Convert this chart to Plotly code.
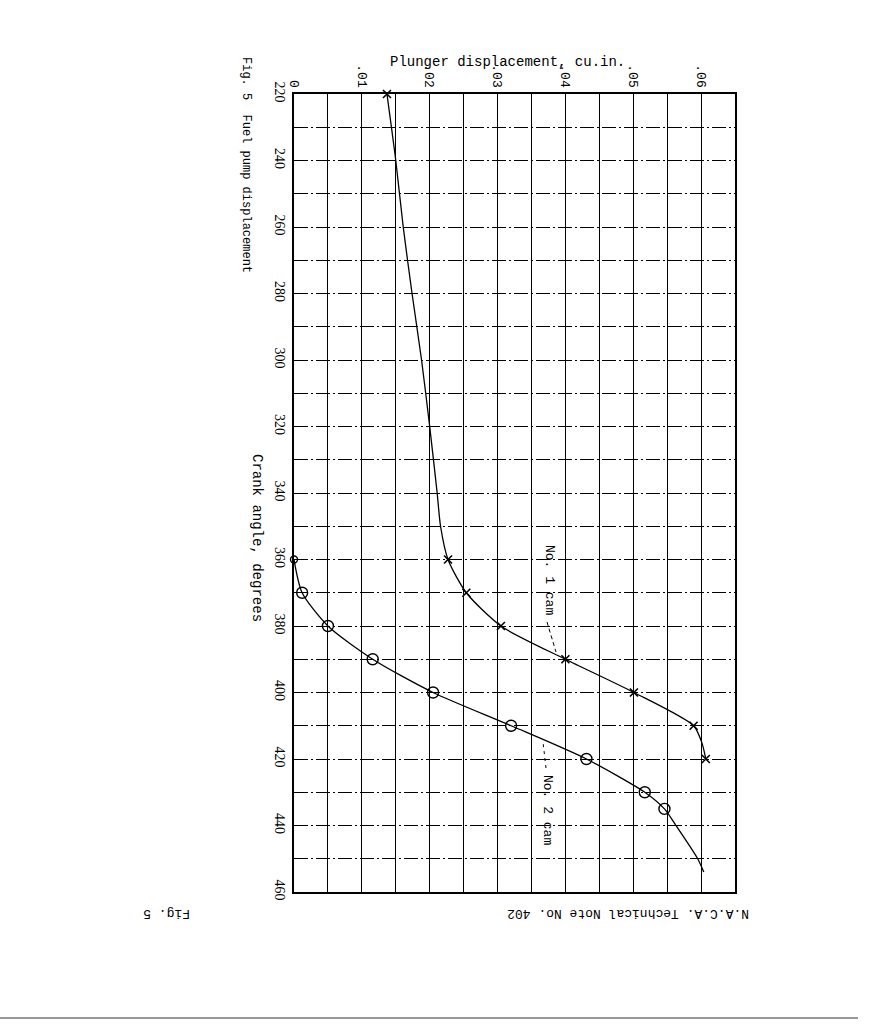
import plotly.graph_objects as go

W, H = 870, 1024
L, R, T, B = 294, 135, 94, 132

# ---- data ----
crank_ticks = [220, 240, 260, 280, 300, 320, 340, 360, 380, 400, 420, 440, 460]
disp_ticks = [0, 0.01, 0.02, 0.03, 0.04, 0.05, 0.06]
disp_tick_text = ["0", ".01", ".02", ".03", ".04", ".05", ".06"]

cam1_pt_angle = [220, 360, 370, 380, 390, 400, 410, 420]
cam1_pt_disp = [0.0137, 0.0227, 0.0254, 0.0305, 0.0400, 0.0501, 0.0589, 0.0607]
cam1_curve_angle = [220, 240, 260, 280, 300, 320, 340, 350, 360, 370, 380, 390, 400, 410, 415, 420]
cam1_curve_disp = [0.0137, 0.0150, 0.0161, 0.0174, 0.0188, 0.0200, 0.0211, 0.0216, 0.0227,
                   0.0254, 0.0305, 0.0400, 0.0501, 0.0589, 0.0601, 0.0607]

cam2_pt_angle = [370, 380, 390, 400, 410, 420, 430, 435]
cam2_pt_disp = [0.0012, 0.0050, 0.0116, 0.0205, 0.0320, 0.0431, 0.0517, 0.0546]
cam2_start_angle = [360]
cam2_start_disp = [0.0]
cam2_curve_angle = [360, 370, 380, 390, 400, 410, 420, 430, 435, 440, 450, 454]
cam2_curve_disp = [0.0, 0.0012, 0.0050, 0.0116, 0.0205, 0.0320, 0.0431, 0.0517, 0.0546,
                   0.0563, 0.0595, 0.0604]

MONO = "Liberation Mono"
SERIF = "Liberation Serif"


def xp(px):
    return (px - L) / (W - L - R)


def yp(py):
    return (H - B - py) / (H - T - B)


fig = go.Figure()
line_style = dict(color="black", width=1.3, shape="spline", smoothing=0.7)
fig.add_trace(go.Scatter(x=cam1_curve_disp, y=cam1_curve_angle, mode="lines",
                         line=line_style, hoverinfo="skip", showlegend=False))
fig.add_trace(go.Scatter(x=cam2_curve_disp, y=cam2_curve_angle, mode="lines",
                         line=line_style, hoverinfo="skip", showlegend=False))
fig.add_trace(go.Scatter(x=cam1_pt_disp, y=cam1_pt_angle, mode="markers", name="No. 1 cam",
                         marker=dict(symbol="x-thin", size=8, line=dict(color="black", width=1.6)),
                         cliponaxis=False, showlegend=False))
fig.add_trace(go.Scatter(x=cam2_pt_disp, y=cam2_pt_angle, mode="markers", name="No. 2 cam",
                         marker=dict(symbol="circle-open", size=11, color="black",
                                     line=dict(color="black", width=1.4)),
                         cliponaxis=False, showlegend=False))
fig.add_trace(go.Scatter(x=cam2_start_disp, y=cam2_start_angle, mode="markers",
                         marker=dict(symbol="circle-open", size=7, color="black",
                                     line=dict(color="black", width=1.4)),
                         cliponaxis=False, showlegend=False))

fig.update_xaxes(
    range=[0, 0.065], side="top", tickmode="array", tickvals=disp_ticks, ticktext=disp_tick_text,
    tickangle=90, tickfont=dict(family=MONO, size=13, color="black"), ticks="",
    showgrid=True, gridcolor="black", gridwidth=1, griddash="6px,3px",
    minor=dict(dtick=0.005, tick0=0, showgrid=True, gridcolor="black", gridwidth=1.2, griddash="solid"),
    showline=True, mirror=True, linecolor="black", linewidth=1.5, zeroline=False, fixedrange=True,
)
fig.update_yaxes(
    range=[460, 220], tickmode="array", tickvals=crank_ticks,
    tickangle=90, tickfont=dict(family=SERIF, size=14, color="black"), ticks="",
    showgrid=True, gridcolor="black", gridwidth=1.1, griddash="14px,3px,2px,3px",
    minor=dict(dtick=10, tick0=220, showgrid=True, gridcolor="black", gridwidth=1.1,
               griddash="14px,3px,2px,3px"),
    showline=True, mirror=True, linecolor="black", linewidth=1.5, zeroline=False, fixedrange=True,
)

ann = []


def text(s, px, py, angle=0, size=14, family=MONO):
    ann.append(dict(text=s, x=xp(px), y=yp(py), xref="paper", yref="paper", showarrow=False,
                    textangle=angle, font=dict(family=family, size=size, color="black"),
                    xanchor="center", yanchor="middle"))


text("Plunger displacement, cu.in.", 507, 62)
text("Fig. 5  Fuel pump displacement", 246, 165, angle=90, size=12)
text("Crank angle, degrees", 257, 538, angle=90)
text("No. 1 cam", 550, 580, angle=90, size=13)
text("No. 2 cam", 548, 810, angle=90, size=13)
text("N.A.C.A. Technical Note No. 402", 628, 914, angle=180, size=13)
text("Fig. 5", 167, 914, angle=180, size=13)

shapes = [
    dict(type="line", xref="paper", yref="paper", x0=xp(547), y0=yp(622), x1=xp(556), y1=yp(652),
         line=dict(color="black", width=1, dash="4px,3px")),
    dict(type="line", xref="paper", yref="paper", x0=xp(546), y0=yp(768), x1=xp(543), y1=yp(742),
         line=dict(color="black", width=1, dash="3px,4px")),
    dict(type="line", xref="paper", yref="paper", x0=xp(0), y0=yp(1018), x1=xp(858), y1=yp(1018),
         line=dict(color="#333", width=1.2)),
]

fig.update_layout(
    width=W, height=H, margin=dict(l=L, r=R, t=T, b=B, autoexpand=False),
    paper_bgcolor="white", plot_bgcolor="white", annotations=ann, shapes=shapes,
    showlegend=False,
)

fig.write_html("out.html")
